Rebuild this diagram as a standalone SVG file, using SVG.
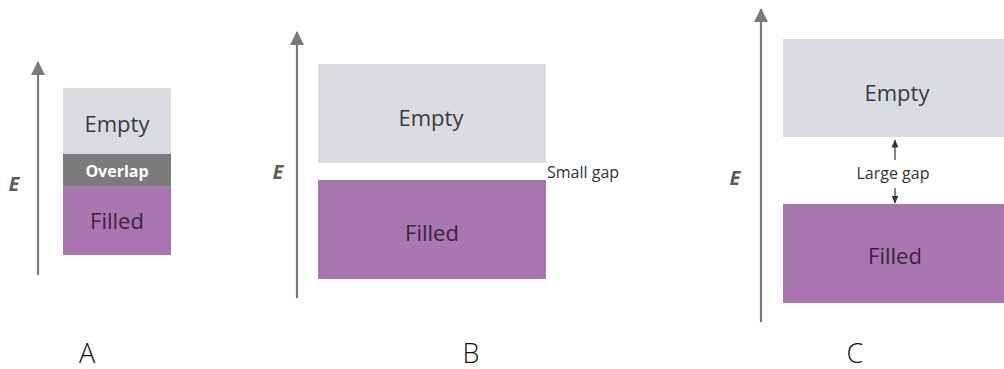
<svg xmlns="http://www.w3.org/2000/svg" width="1004" height="369" viewBox="0 0 1004 369">
  <defs>
    <marker id="axisHead" markerUnits="userSpaceOnUse" markerWidth="14" markerHeight="14" viewBox="0 0 14 14" refX="13" refY="7" orient="auto">
      <path d="M0,0 L14,7 L0,14 Z" fill="#7a7a7a"/>
    </marker>
    <marker id="gapHead" markerUnits="userSpaceOnUse" markerWidth="8" markerHeight="8" viewBox="0 0 8 8" refX="7.5" refY="4" orient="auto">
      <path d="M0,0.5 L8,4 L0,7.5 Z" fill="#333333"/>
    </marker>
  </defs>
  <style>
    .empty { fill: #d9dbe0; }
    .filled { fill: #a976b1; }
    .overlap { fill: #7b7b7b; }
    .band { font-family: "Open Sans", "Liberation Sans", sans-serif; font-size: 22px; text-anchor: middle; dominant-baseline: central; }
    .band-empty { fill: #3a3a3c; }
    .band-filled { fill: #3e2342; }
    .band-overlap { fill: #ffffff; font-weight: bold; font-size: 16px; }
    .axis { stroke: #7a7a7a; stroke-width: 2.2; fill: none; marker-end: url(#axisHead); }
    .gapline { stroke: #333333; stroke-width: 1.2; fill: none; marker-end: url(#gapHead); }
    .elabel { font-family: "Open Sans", "Liberation Sans", sans-serif; font-size: 20px; font-weight: bold; font-style: italic; fill: #5c5c5c; text-anchor: middle; dominant-baseline: central; }
    .note { font-family: "Open Sans", "Liberation Sans", sans-serif; font-size: 16px; fill: #333333; }
    .caption { font-family: "Open Sans", "Liberation Sans", sans-serif; font-size: 27px; font-weight: 300; fill: #111111; text-anchor: middle; }
  </style>

  <!-- energy axes and the gap indicator -->
  <g id="connectors">
    <line class="axis" x1="38" y1="275" x2="38" y2="62"/>
    <line class="axis" x1="297" y1="298" x2="297" y2="32"/>
    <line class="axis" x1="761" y1="322" x2="761" y2="9"/>
    <line class="gapline" x1="895" y1="160" x2="895" y2="140"/>
    <line class="gapline" x1="895" y1="188" x2="895" y2="203"/>
  </g>

  <!-- panel A: metal, bands overlap -->
  <g id="panel-a">
    <rect class="empty" x="63" y="88" width="108" height="66"/>
    <rect class="overlap" x="63" y="154" width="108" height="32"/>
    <rect class="filled" x="63" y="186" width="108" height="69"/>
    <text class="band band-empty" x="117" y="123">Empty</text>
    <text class="band band-overlap" x="117" y="171">Overlap</text>
    <text class="band band-filled" x="117" y="220">Filled</text>
    <text class="elabel" x="14" y="183">E</text>
    <text class="caption" x="87" y="363">A</text>
  </g>

  <!-- panel B: semiconductor, small gap -->
  <g id="panel-b">
    <rect class="empty" x="318" y="64" width="228" height="99"/>
    <rect class="filled" x="318" y="180" width="228" height="99"/>
    <text class="band band-empty" x="431" y="117">Empty</text>
    <text class="band band-filled" x="432" y="232">Filled</text>
    <text class="note" x="547" y="178">Small gap</text>
    <text class="elabel" x="278" y="171">E</text>
    <text class="caption" x="471" y="363">B</text>
  </g>

  <!-- panel C: insulator, large gap -->
  <g id="panel-c">
    <rect class="empty" x="783" y="39" width="221" height="98"/>
    <rect class="filled" x="783" y="204" width="221" height="99"/>
    <text class="band band-empty" x="897" y="92">Empty</text>
    <text class="band band-filled" x="895" y="255">Filled</text>
    <text class="note" x="893" y="179" text-anchor="middle">Large gap</text>
    <text class="elabel" x="735" y="177">E</text>
    <text class="caption" x="855" y="363">C</text>
  </g>
</svg>
